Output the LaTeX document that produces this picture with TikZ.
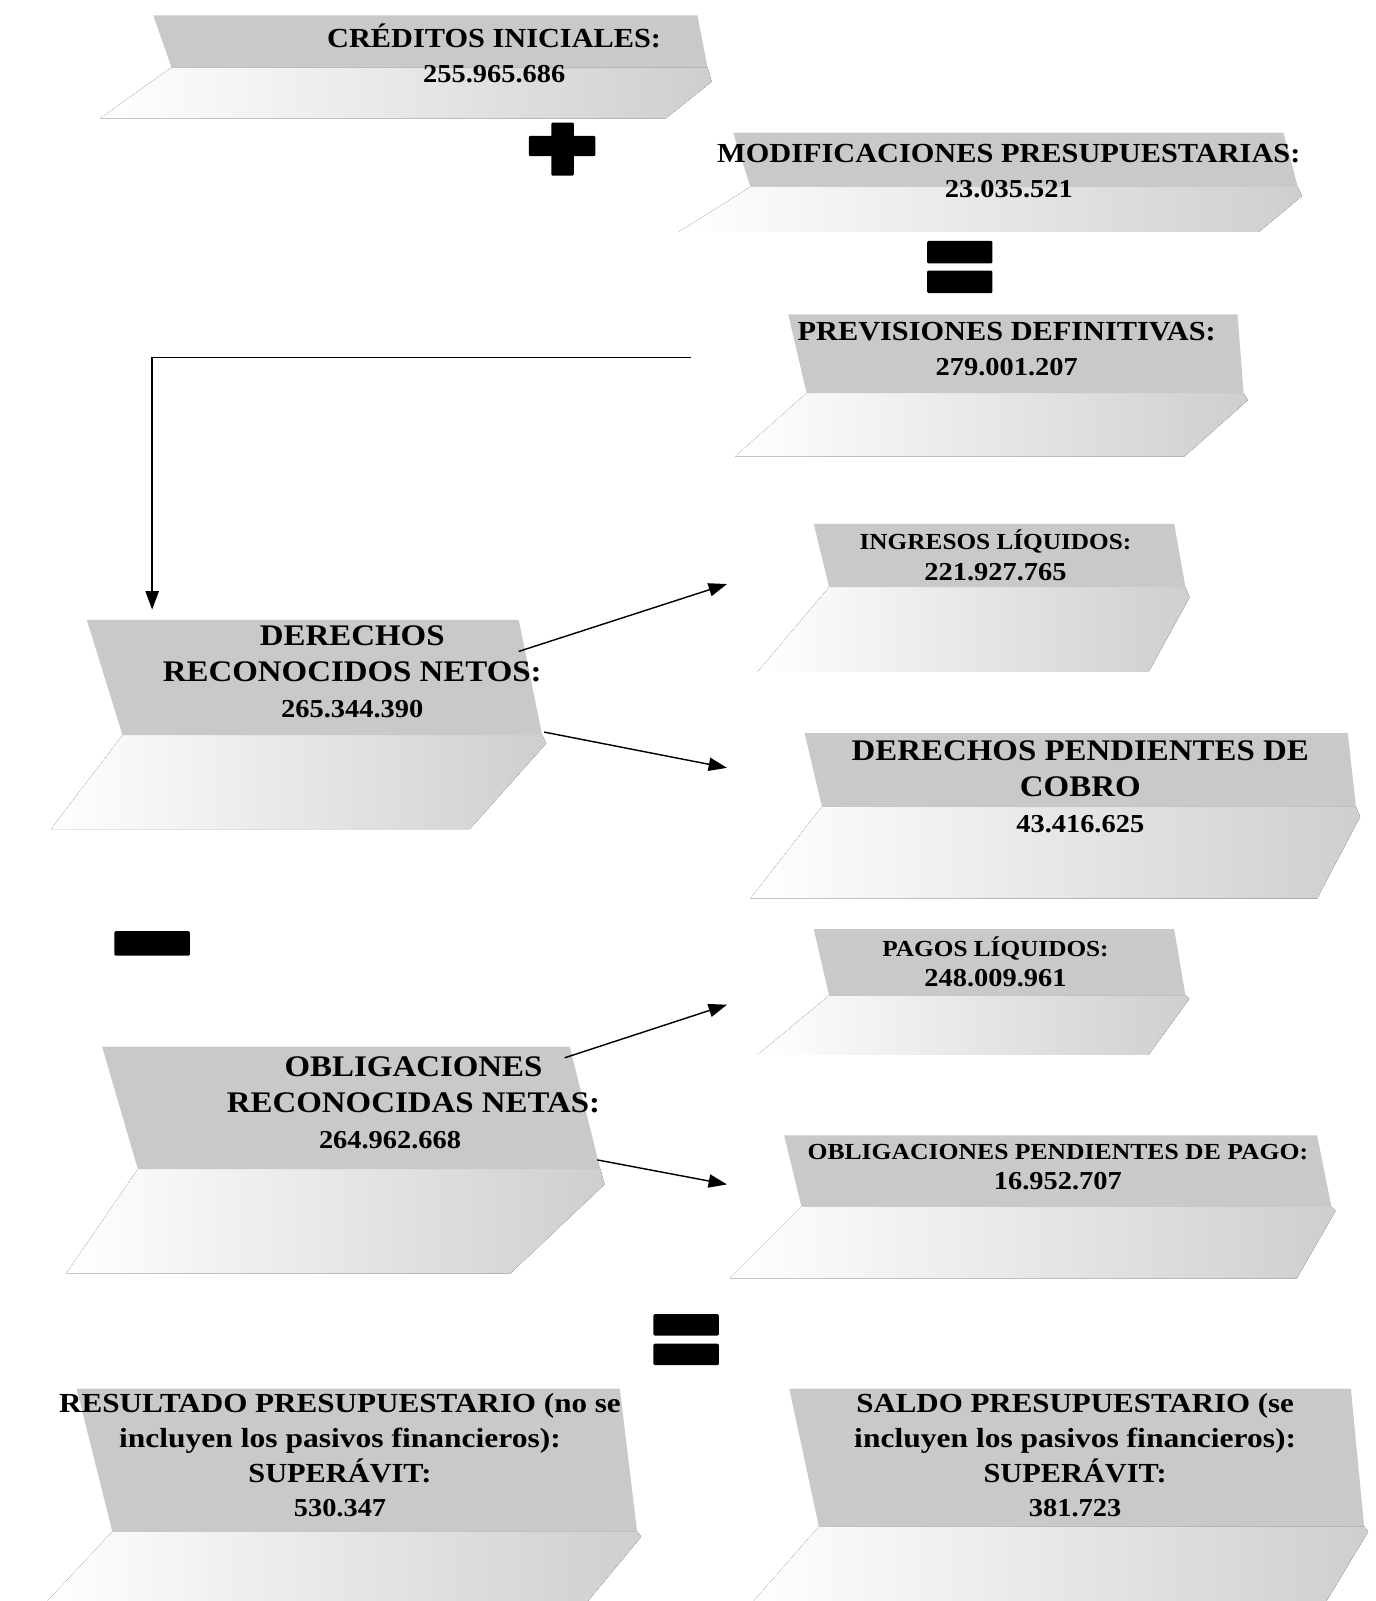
\documentclass[tikz,border=0pt]{standalone}
\usepackage{fontspec}
\usetikzlibrary{arrows.meta}
\newfontfamily\gar[FakeStretch=1.1]{Liberation Serif}
% #1 band top-left x, #2 band bottom-left x, #3 band top y, #4 band top-right x,
% #5 band bottom y, #6 tip x, #7 tip y, #8 bottom-right x, #9 bottom y
\newcommand{\ribbon}[9]{%
  \fill[lowface] (#2,#5) -- ({#6-4},#5) -- (#6,#7) -- (#8,#9) -- ({#2-70},#9) -- cycle;
  \fill[band] (#1,#3) -- (#4,#3) -- ({#6-4},#5) -- (#2,#5) -- cycle;}
\newcommand{\nm}[1]{{\fontsize{25.3}{30}\selectfont #1}}
\begin{document}
\begin{tikzpicture}[x=1pt,y=-1pt,
  band/.style={fill=black!21},
  lowface/.style={left color=white,right color=black!19},
  lbl/.style={font=\gar\bfseries\fontsize{27}{34}\selectfont,align=center,inner sep=0pt},
  biglbl/.style={lbl,font=\gar\bfseries\fontsize{29.3}{35}\selectfont},
  smalllbl/.style={lbl,font=\gar\bfseries\fontsize{22.5}{30}\selectfont},
  conn/.style={line width=1.4pt,-{Triangle[length=18pt,width=13pt]}},
  sym/.style={fill=black,rounded corners=1.2pt}]
\useasboundingbox (0,0) rectangle (1347,1568);
% shapes
\ribbon{150}{168}{15}{683}{66}{697}{80}{652}{116}
\ribbon{718}{735}{130}{1257}{183}{1275}{192}{1233}{227}
\ribbon{772}{790}{308}{1212}{385}{1222}{392}{1160}{447}
\ribbon{797}{812}{513}{1150}{575}{1165}{585}{1125}{658}
\ribbon{85}{120}{607}{508}{720}{535}{728}{460}{812}
\ribbon{788}{805}{718}{1320}{790}{1332}{800}{1290}{880}
\ribbon{797}{812}{910}{1150}{975}{1165}{978}{1125}{1033}
\ribbon{100}{135}{1025}{558}{1145}{592}{1160}{500}{1247}
\ribbon{768}{785}{1112}{1290}{1182}{1308}{1186}{1270}{1252}
\ribbon{75}{110}{1360}{607}{1500}{628}{1505}{570}{1575}
\ribbon{773}{802}{1360}{1323}{1495}{1340}{1500}{1295}{1575}
% texts
\node[lbl] (cred) at (484,52) {CRÉDITOS INICIALES:\\\nm{255.965.686}};
\node[lbl] (modif) at (988,167.5) {MODIFICACIONES PRESUPUESTARIAS:\\\nm{23.035.521}};
\node[lbl] (prev) at (986,342) {PREVISIONES DEFINITIVAS:\\\nm{279.001.207}};
\node[smalllbl] (ingr) at (975,544) {INGRESOS LÍQUIDOS:\\\nm{221.927.765}};
\node[biglbl] (drn) at (345,658) {DERECHOS\\RECONOCIDOS NETOS:\\\nm{265.344.390}};
\node[biglbl] (dpc) at (1058,770.5) {DERECHOS PENDIENTES DE\\COBRO\\\nm{43.416.625}};
\node[smalllbl] (pagos) at (975,942) {PAGOS LÍQUIDOS:\\\nm{248.009.961}};
\node[biglbl] (orn) at (405,1080) {OBLIGACIONES\\RECONOCIDAS NETAS:\\\nm{264.962.668}\hspace*{46pt}};
\node[smalllbl] (opp) at (1036,1143) {\scalebox{1.015}[1]{OBLIGACIONES PENDIENTES DE PAGO:}\\\nm{16.952.707}};
\node[lbl] (res) at (333,1425.5) {\scalebox{1.025}[1]{RESULTADO PRESUPUESTARIO (no se}\\\scalebox{1.04}[1]{incluyen los pasivos financieros):}\\SUPERÁVIT:\\\nm{530.347}};
\node[lbl] (saldo) at (1053,1425.5) {\scalebox{1.02}[1]{SALDO PRESUPUESTARIO (se}\\\scalebox{1.04}[1]{incluyen los pasivos financieros):}\\SUPERÁVIT:\\\nm{381.723}};
% operator symbols
\fill[sym] (518,133) rectangle (583,153);
\fill[sym] (540,120) rectangle (562,172);
\fill[sym] (908,236) rectangle (972,258);
\fill[sym] (908,265) rectangle (972,287);
\fill[sym] (112,912) rectangle (186,936);
\fill[sym] (640,1287) rectangle (704,1308);
\fill[sym] (640,1316) rectangle (704,1337);
% connectors
\coordinate (prevL) at (677,350);
\coordinate (elbow) at (149,350);
\coordinate (drnIn) at (149,597);
\draw[conn] (prevL) -- (elbow) -- (drnIn);
\coordinate (drnA) at (508,638);
\coordinate (ingrIn) at (712,572);
\coordinate (drnB) at (533,717);
\coordinate (dpcIn) at (712,752);
\draw[conn] (drnA) -- (ingrIn);
\draw[conn] (drnB) -- (dpcIn);
\coordinate (ornA) at (553,1036);
\coordinate (pagIn) at (712,984);
\coordinate (ornB) at (585,1136);
\coordinate (oppIn) at (712,1160);
\draw[conn] (ornA) -- (pagIn);
\draw[conn] (ornB) -- (oppIn);
\end{tikzpicture}
\end{document}
